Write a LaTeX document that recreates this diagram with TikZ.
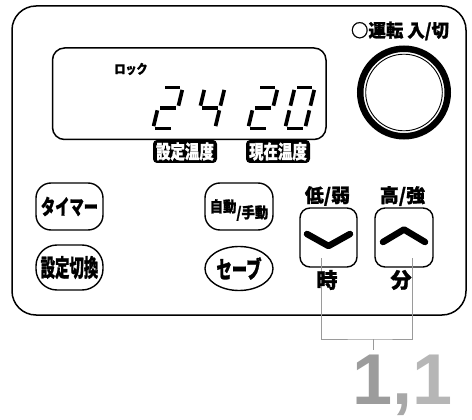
\documentclass[tikz,border=0pt]{standalone}
\usepackage{fontspec}
\usepackage{graphicx}
\usetikzlibrary{shapes.geometric}
\newfontfamily\jp{Noto Sans CJK JP}[BoldFeatures={FakeBold=1.2}]
\newfontfamily\numfont{Liberation Sans}
\newcommand\cnd[2]{\scalebox{#1}[1]{#2}}
\definecolor{brkgray}{HTML}{9A9A9A}
\definecolor{numa}{HTML}{9C9C9C}
\definecolor{numb}{HTML}{A8A8A8}
\definecolor{numc}{HTML}{B6B6B6}
% seven-segment pieces (local coords, y up)
\newcommand\lcdA{\draw[segline] (2.4,41) -- (17.6,41);}
\newcommand\lcdB{\draw[segline] (20,38.6) -- (20,22.8);}
\newcommand\lcdC{\draw[segline] (20,18.2) -- (20,2.4);}
\newcommand\lcdD{\draw[segline] (2.4,0) -- (17.6,0);}
\newcommand\lcdE{\draw[segline] (0,2.4) -- (0,18.2);}
\newcommand\lcdF{\draw[segline] (0,22.8) -- (0,38.6);}
\newcommand\lcdG{\draw[segline] (2.4,20.5) -- (17.6,20.5);}
\newcommand\lcddigit[2]{\begin{scope}[shift={(#1,128.5)},yscale=-1,xslant=-0.24]#2\end{scope}}
\begin{document}
\begin{tikzpicture}[x=1pt,y=-1pt,
  frame/.style={draw=black, line width=1.5pt},
  btn/.style={draw=black, line width=1.4pt, inner sep=0pt},
  jpf/.style={font={\jp\bfseries\fontsize{#1}{#1}\selectfont}, inner sep=0pt},
  segline/.style={line width=3.7pt, line cap=butt},
  chev/.style={line width=6.5pt, line cap=round, line join=round},
  tag/.style={fill=black, text=white, rounded corners=4pt, minimum width=64pt, minimum height=23pt, inner sep=0pt, font={\jp\bfseries\fontsize{19}{19}\selectfont}},
  brk/.style={draw=brkgray, line width=1pt}]
\useasboundingbox (0,0) rectangle (472,420);
% panel and LCD
\draw[frame, rounded corners=24pt] (12,6) rectangle (466,315);
\draw[frame, rounded corners=12pt] (52.5,48) rectangle (326,139.5);
\node[jpf=13] (lock) at (131,69) {\cnd{0.85}{ロック}};
\lcddigit{153}{\lcdA\lcdB\lcdG\lcdE\lcdD}
\lcddigit{195}{\lcdF\lcdG\lcdB\lcdC}
\lcddigit{248}{\lcdA\lcdB\lcdG\lcdE\lcdD}
\lcddigit{285}{\lcdA\lcdB\lcdC\lcdD\lcdE\lcdF}
\node[tag] (lblset) at (185,151.5) {\cnd{0.76}{設定温度}};
\node[tag] (lblcur) at (278,151.5) {\cnd{0.76}{現在温度}};
% power button
\node[jpf=18] (powlbl) at (400,31) {\cnd{0.97}{○運転 入/切}};
\node[circle, draw, line width=6.5pt, minimum size=87.5pt, inner sep=0pt] (power) at (404,92.5) {};
\draw[line width=0.9pt] (power.center) circle[radius=38.3pt];
% left buttons
\node[btn, rounded corners=15pt, minimum width=67pt, minimum height=47pt, jpf=21] (timer) at (69.5,206.5) {\cnd{0.68}{タイマー}};
\node[btn, rounded corners=21pt, minimum width=67pt, minimum height=45pt, jpf=24] (switch) at (69.5,267.5) {\cnd{0.6}{設定切換}};
\node[btn, rounded corners=15pt, minimum width=68pt, minimum height=47pt] (auto) at (239,206.5) {};
\node[jpf=15] (autolbl) at (239,210) {\cnd{0.89}{自動\raisebox{-6pt}{/手動}}};
\node[btn, ellipse, minimum width=68pt, minimum height=44pt, jpf=24] (save) at (239,268.5) {\cnd{0.64}{セーブ}};
% arrow buttons
\node[btn, rounded corners=10pt, minimum width=57pt, minimum height=59pt] (down) at (328.5,237.5) {};
\node[btn, rounded corners=10pt, minimum width=58pt, minimum height=59pt] (up) at (404,237.5) {};
\draw[chev] (307,234) -- (328.5,246) -- (350,234);
\draw[chev] (383,242) -- (404,229.5) -- (425,242);
\node[jpf=19] (lo) at (327.5,196) {低/弱};
\node[jpf=19] (hi) at (402.5,196) {高/強};
% bracket
\coordinate (bl) at (321,258);
\coordinate (br) at (412,258);
\coordinate (bm) at (373,339);
\coordinate (bt) at (373,350);
\draw[brk] (bl) |- (bm) -| (br);
\draw[brk] (bm) -- (bt);
\node[jpf=21] (hour) at (327,280) {時};
\node[jpf=21] (minute) at (401,280) {分};
\node[anchor=base west, inner sep=0pt, font={\numfont\bfseries\fontsize{72}{72}\selectfont}] (num) at (352,404) {\textcolor{numa}{1}\textcolor{numb}{,}\textcolor{numc}{1}};
\end{tikzpicture}
\end{document}
